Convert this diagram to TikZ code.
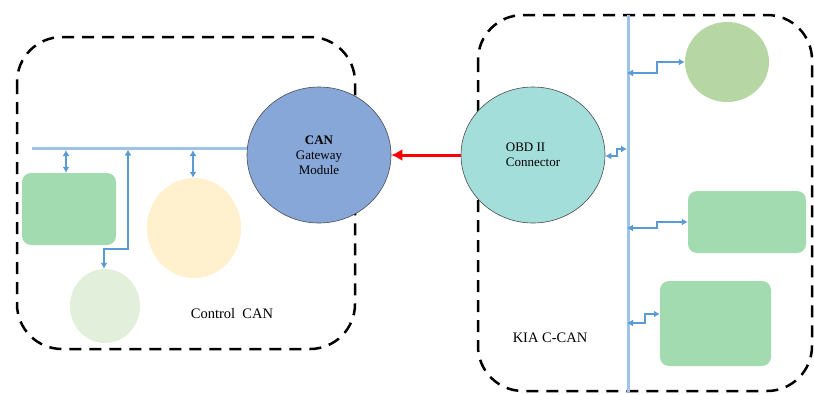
\documentclass[tikz,border=0pt]{standalone}
\usepackage{fontspec}
\setmainfont{Liberation Serif}
\usetikzlibrary{shapes.geometric,arrows.meta}
\definecolor{gwblue}{HTML}{87A7D9}
\definecolor{obdcyan}{HTML}{A4DEDA}
\definecolor{ecugreen}{HTML}{A3DBB0}
\definecolor{ecuyellow}{HTML}{FFF1CD}
\definecolor{ecupale}{HTML}{E2EFDA}
\definecolor{ecuolive}{HTML}{B6D6A3}
\definecolor{busblue}{HTML}{9DC3E6}
\definecolor{sigblue}{HTML}{5B9BD5}
\tikzset{
  dashbox/.style={draw=black, line width=2.5pt, dash pattern=on 12pt off 8pt, rounded corners=45pt},
  bus/.style={draw=busblue, line width=3pt},
  sig/.style={draw=sigblue, line width=2pt, {Latex[length=6pt,width=7pt]}-{Latex[length=6pt,width=7pt]}},
  bigcircle/.style={ellipse, draw=black!70, line width=0.6pt, inner sep=0pt, minimum width=144pt, minimum height=136pt, font=\fontsize{13}{15}\selectfont},
  ecuround/.style={ellipse, draw=none, inner sep=0pt},
  ecubox/.style={rectangle, draw=none, fill=ecugreen, rounded corners=9pt, inner sep=0pt},
  lbl/.style={font=\fontsize{14.5}{17}\selectfont, inner sep=0pt}
}
\begin{document}
\begin{tikzpicture}[x=1pt,y=-1pt]
\useasboundingbox (0,0) rectangle (814,394);
\fill[white] (0,0) rectangle (814,394);

% network boundaries
\draw[dashbox] (17,37) rectangle (355,349);
\draw[dashbox] (478,15) rectangle (812,391);

% bus lines
\coordinate (busL) at (32,148);
\coordinate (busLend) at (300,148);
\coordinate (busRtop) at (628,15);
\coordinate (busRbot) at (628,392);
\draw[bus] (busL) -- (busLend);
\draw[bus] (busRtop) -- (busRbot);

% main nodes
\node[bigcircle, fill=gwblue, align=center] (gw) at (319,155) {\textbf{CAN}\\Gateway\\Module};
\node[bigcircle, fill=obdcyan, align=left] (obd) at (533,155) {OBD II\\Connector};

% Control CAN ECUs
\node[ecubox, minimum width=94pt, minimum height=72pt] (r1) at (69,209) {};
\node[ecuround, fill=ecuyellow, minimum width=94pt, minimum height=100pt] (c2) at (194,228) {};
\node[ecuround, fill=ecupale, minimum width=70pt, minimum height=74pt] (c1) at (105,306) {};

% KIA C-CAN ECUs
\node[ecuround, fill=ecuolive, minimum width=84pt, minimum height=80pt] (c3) at (727,62) {};
\node[ecubox, minimum width=118pt, minimum height=62pt] (r2) at (747,222) {};
\node[ecubox, minimum width=111pt, minimum height=85pt] (r3) at (715.5,323.5) {};

% left connections
\coordinate (b1) at (66,150);
\coordinate (b2) at (128,149.5);
\coordinate (b3) at (193,150);
\coordinate (k2) at (128,249);
\coordinate (k2b) at (104,249);
\draw[sig] (b1) -- (b1 |- r1.north);
\draw[sig] (b3) -- (b3 |- c2.north);
\draw[sig] (b2) -- (k2) -- (k2b) -- (k2b |- c1.north);

% right connections
\coordinate (s1) at (627,73);
\coordinate (s1a) at (657,73);
\coordinate (s1b) at (657,62);
\draw[sig] (s1) -- (s1a) -- (s1b) -- (c3.west);

\coordinate (s2) at (627,228);
\coordinate (s2a) at (657,228);
\coordinate (s2b) at (657,222);
\draw[sig] (s2) -- (s2a) -- (s2b) -- (r2.west);

\coordinate (s3) at (627,323);
\coordinate (s3a) at (645,323);
\coordinate (s3b) at (645,314);
\draw[sig] (s3) -- (s3a) -- (s3b) -- (r3.west |- s3b);

\coordinate (o1) at (617,156);
\coordinate (o2) at (617,149);
\coordinate (o3) at (627,149);
\draw[sig] (obd.east |- o1) -- (o1) -- (o2) -- (o3);

% OBD to gateway
\draw[red, line width=3pt, -{Latex[length=11pt,width=12pt]}] (obd.west) -- (gw.east);

% labels
\node[lbl] (lc) at (232,314) {Control~~CAN};
\node[lbl] (lk) at (550,338) {KIA C-CAN};
\end{tikzpicture}
\end{document}
